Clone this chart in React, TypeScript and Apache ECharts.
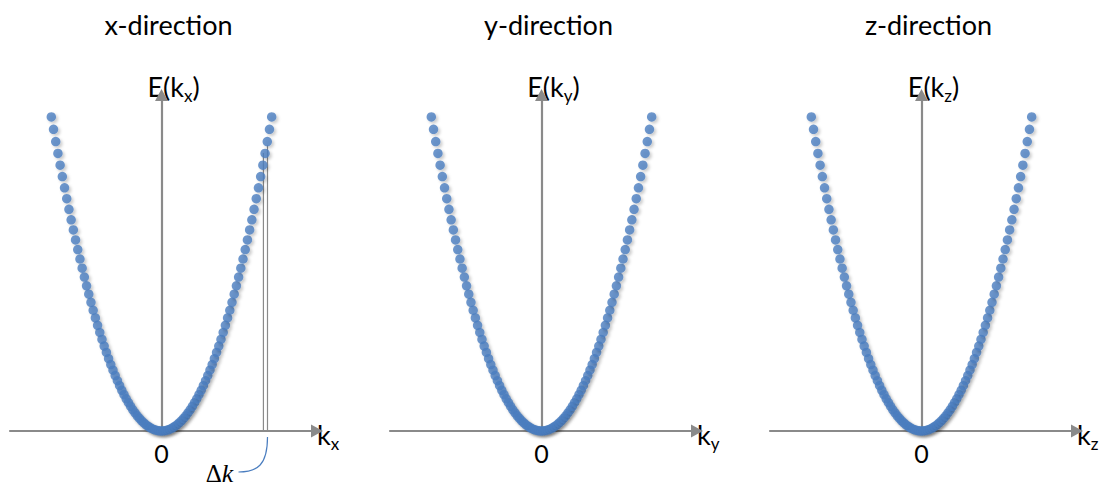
import React, { useEffect, useRef } from "react";
import * as echarts from "echarts";

// wave-vector values k (normalised), shared by the three panels
const K_VALUES = [
  -1.0, -0.98, -0.96, -0.94, -0.92, -0.9, -0.88, -0.86, -0.84, -0.82,
  -0.8, -0.78, -0.76, -0.74, -0.72, -0.7, -0.68, -0.66, -0.64, -0.62,
  -0.6, -0.58, -0.56, -0.54, -0.52, -0.5, -0.48, -0.46, -0.44, -0.42,
  -0.4, -0.38, -0.36, -0.34, -0.32, -0.3, -0.28, -0.26, -0.24, -0.22,
  -0.2, -0.18, -0.16, -0.14, -0.12, -0.1, -0.08, -0.06, -0.04, -0.02,
  0.0,
  0.02, 0.04, 0.06, 0.08, 0.1, 0.12, 0.14, 0.16, 0.18, 0.2,
  0.22, 0.24, 0.26, 0.28, 0.3, 0.32, 0.34, 0.36, 0.38, 0.4,
  0.42, 0.44, 0.46, 0.48, 0.5, 0.52, 0.54, 0.56, 0.58, 0.6,
  0.62, 0.64, 0.66, 0.68, 0.7, 0.72, 0.74, 0.76, 0.78, 0.8,
  0.82, 0.84, 0.86, 0.88, 0.9, 0.92, 0.94, 0.96, 0.98, 1.0,
];

// energy values E(k) (same parabola in each panel)
const ENERGY_VALUES = [
  1.0, 0.9604, 0.9216, 0.8836, 0.8464, 0.81, 0.7744, 0.7396, 0.7056, 0.6724,
  0.64, 0.6084, 0.5776, 0.5476, 0.5184, 0.49, 0.4624, 0.4356, 0.4096, 0.3844,
  0.36, 0.3364, 0.3136, 0.2916, 0.2704, 0.25, 0.2304, 0.2116, 0.1936, 0.1764,
  0.16, 0.1444, 0.1296, 0.1156, 0.1024, 0.09, 0.0784, 0.0676, 0.0576, 0.0484,
  0.04, 0.0324, 0.0256, 0.0196, 0.0144, 0.01, 0.0064, 0.0036, 0.0016, 0.0004,
  0.0,
  0.0004, 0.0016, 0.0036, 0.0064, 0.01, 0.0144, 0.0196, 0.0256, 0.0324, 0.04,
  0.0484, 0.0576, 0.0676, 0.0784, 0.09, 0.1024, 0.1156, 0.1296, 0.1444, 0.16,
  0.1764, 0.1936, 0.2116, 0.2304, 0.25, 0.2704, 0.2916, 0.3136, 0.3364, 0.36,
  0.3844, 0.4096, 0.4356, 0.4624, 0.49, 0.5184, 0.5476, 0.5776, 0.6084, 0.64,
  0.6724, 0.7056, 0.7396, 0.7744, 0.81, 0.8464, 0.8836, 0.9216, 0.9604, 1.0,
];

const PANEL_TITLES = ["x-direction", "y-direction", "z-direction"];
const AXIS_SUBSCRIPTS = ["x", "y", "z"];
const X_TICK_LABELS = [0];

// the two Δk marker lines in the first panel: [k, top E]
const DELTA_K_LINES = [
  [0.925, 0.885],
  [0.962, 0.91],
];
const DELTA_K_LABEL = "Δ";

const FONT = "Lato, 'Open Sans', sans-serif";
const AXIS_COLOR = "#8a8a8a";
const DOT_COLOR = "#4a7dbf";

const GRID_LEFTS = [10, 390, 770];
const GRID_WIDTH = 303;
const GRID_TOP = 99;
const GRID_HEIGHT = 332;

export default function App() {
  const ref = useRef<HTMLDivElement>(null);

  useEffect(() => {
    if (!ref.current) return;
    const chart = echarts.init(ref.current, undefined, { renderer: "svg" });

    const points = K_VALUES.map((k, i) => [k, ENERGY_VALUES[i]]);
    const subRich = {
      m: { fontSize: 27, fontFamily: FONT, color: "#000" },
      s: { fontSize: 17, fontFamily: FONT, color: "#000", padding: [18, 0, 0, 0] },
    };

    const grids = GRID_LEFTS.map((left) => ({
      left,
      width: GRID_WIDTH,
      top: GRID_TOP,
      height: GRID_HEIGHT,
    }));

    const axisLineStyle = {
      color: AXIS_COLOR,
      width: 2.2,
    };

    const xAxes = AXIS_SUBSCRIPTS.map((sub, i) => ({
      type: "value",
      gridIndex: i,
      min: -1.375,
      max: 1.375,
      name: `{m|k}{s|${sub}}`,
      nameLocation: "end",
      nameGap: 4,
      nameTextStyle: { rich: subRich, padding: [6, 0, 0, 0] },
      axisLine: {
        show: true,
        onZero: false,
        symbol: ["none", "triangle"],
        symbolSize: [13, 12],
        symbolOffset: [0, 4],
        lineStyle: axisLineStyle,
      },
      axisTick: { show: false },
      splitLine: { show: false },
      axisLabel: {
        show: true,
        customValues: X_TICK_LABELS,
        fontSize: 25,
        fontFamily: FONT,
        color: "#000",
        margin: 9,
      },
    }));

    const yAxes = AXIS_SUBSCRIPTS.map((sub, i) => ({
      type: "value",
      gridIndex: i,
      min: 0,
      max: 1.057,
      name: `{m|E(k}{s|${sub}}{m|)}`,
      nameLocation: "end",
      nameGap: -5,
      nameTextStyle: { rich: subRich, padding: [0, 0, 0, 24] },
      axisLine: {
        show: true,
        onZero: true,
        symbol: ["none", "triangle"],
        symbolSize: [13, 12],
        symbolOffset: [0, 4],
        lineStyle: axisLineStyle,
      },
      axisTick: { show: false },
      splitLine: { show: false },
      axisLabel: { show: false },
    }));

    const scatterSeries = AXIS_SUBSCRIPTS.map((_, i) => ({
      type: "scatter",
      xAxisIndex: i,
      yAxisIndex: i,
      data: points,
      symbolSize: 9.5,
      itemStyle: {
        color: DOT_COLOR,
        shadowColor: "rgba(0,0,0,0.25)",
        shadowBlur: 3,
        shadowOffsetX: 2,
        shadowOffsetY: 2,
      },
      z: 3,
    }));

    const markerSeries = DELTA_K_LINES.map(([k, e]) => ({
      type: "line",
      xAxisIndex: 0,
      yAxisIndex: 0,
      data: [
        [k, 0],
        [k, e],
      ],
      symbol: "none",
      lineStyle: { color: "#8a8a8a", width: 1.2 },
      z: 2,
    }));

    const titles = PANEL_TITLES.map((t, i) => ({
      text: t,
      left: GRID_LEFTS[i] + GRID_WIDTH / 2 + 2,
      textAlign: "center",
      top: 6,
      textStyle: { fontSize: 27, fontWeight: "normal", fontFamily: FONT, color: "#000" },
    }));

    chart.setOption({
      animation: false,
      backgroundColor: "#fff",
      title: titles,
      grid: grids,
      xAxis: xAxes,
      yAxis: yAxes,
      series: [...scatterSeries, ...markerSeries],
    });

    // leader from the Δk lines to its label
    const p = chart.convertToPixel({ gridIndex: 0 }, [DELTA_K_LINES[1][0], 0]) as number[];
    chart.setOption({
      graphic: [
        {
          type: "bezierCurve",
          shape: {
            x1: p[0],
            y1: p[1] + 6,
            cpx1: p[0],
            cpy1: p[1] + 34,
            cpx2: p[0] - 10,
            cpy2: p[1] + 41,
            x2: p[0] - 29,
            y2: p[1] + 41,
          },
          style: { stroke: DOT_COLOR, lineWidth: 1.2, fill: "none" },
        },
        {
          type: "text",
          x: p[0] - 48,
          y: p[1] + 42,
          style: {
            text: `{d|${DELTA_K_LABEL}}{k|k}`,
            align: "center",
            verticalAlign: "middle",
            rich: {
              d: { fontSize: 25, fontFamily: "'Liberation Serif', serif", color: "#000" },
              k: { fontSize: 26, fontFamily: "'Liberation Serif', serif", fontStyle: "italic", color: "#000" },
            },
          },
        },
      ],
    });

    return () => chart.dispose();
  }, []);

  return (
    <div
      ref={ref}
      style={{ position: "fixed", left: 0, top: 0, width: 1109, height: 489, background: "#fff" }}
    />
  );
}
